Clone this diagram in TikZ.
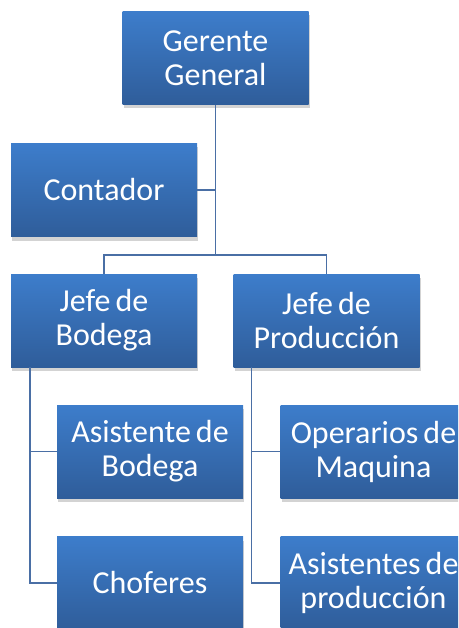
\documentclass[tikz,border=0pt]{standalone}
\usepackage{fontspec}
\setmainfont{Carlito}[WordSpace={0.7,0,0}]
\usetikzlibrary{shadows,calc}

\definecolor{boxtop}{HTML}{3D7DCB}
\definecolor{boxbot}{HTML}{2F5D9A}
\definecolor{linecol}{HTML}{4A6FA5}

\tikzset{
  puesto/.style={rectangle, minimum width=186pt, minimum height=93pt,
    align=center, inner sep=0pt,
    top color=boxtop, bottom color=boxbot, text=white,
    font=\fontsize{32}{34}\selectfont,
    drop shadow={shadow xshift=1pt, shadow yshift=-4pt, opacity=0.35}},
  enlace/.style={draw=linecol, line width=1.6pt}
}

\begin{document}
\begin{tikzpicture}[x=1pt, y=-1pt]
  \useasboundingbox (0,0) rectangle (458,628);
  \clip (0,0) rectangle (458,628);

  \node[puesto] (gg) at (215.5, 58) {Gerente\\General};
  \node[puesto] (cont) at (104, 190) {Contador};
  \node[puesto] (jb) at (104, 320.5) {Jefe de\\Bodega};
  \node[puesto] (jp) at (326.5, 320.5) {Jefe de\\Producción};
  \node[puesto] (ab) at (150, 451.5) {Asistente de\\Bodega};
  \node[puesto] (ch) at (150, 583) {Choferes};
  \node[puesto] (om) at (373.5, 451.5) {Operarios de\\Maquina};
  \node[puesto] (ap) at (373.5, 583) {Asistentes de\\producción};

  % lineas de mando
  \coordinate (bus) at (215.5, 255);
  \draw[enlace] (gg.south) -- (bus);
  \draw[enlace] (cont.east) -- (gg.south |- cont.east);
  \draw[enlace] (jb.north) |- (bus) -| (jp.north);

  \coordinate (jbl) at ($(jb.south west)+(19,0)$);
  \coordinate (jpl) at ($(jp.south west)+(18,0)$);
  \draw[enlace] (jbl) |- (ab.west);
  \draw[enlace] (jbl) |- (ch.west);
  \draw[enlace] (jpl) |- (om.west);
  \draw[enlace] (jpl) |- (ap.west);
\end{tikzpicture}
\end{document}
